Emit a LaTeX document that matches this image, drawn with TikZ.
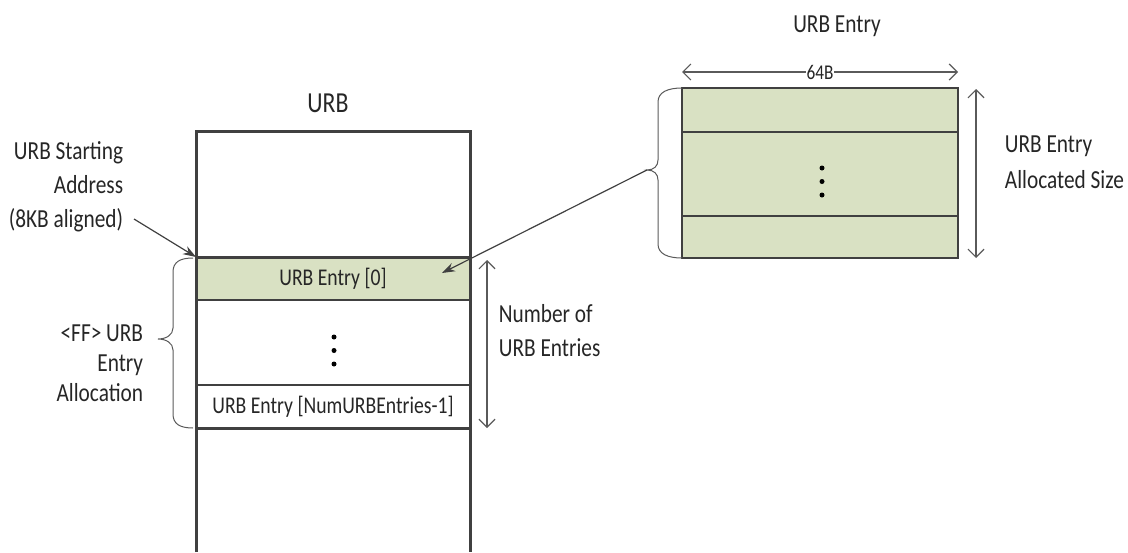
\documentclass[tikz,border=0pt]{standalone}
\usepackage{fontspec}
\usepackage{graphicx}
\setmainfont{Carlito}
\usetikzlibrary{positioning,arrows.meta}
\definecolor{urbgreen}{HTML}{D9E1C3}
\definecolor{urbline}{HTML}{404040}
\definecolor{urbgray}{HTML}{5A5A5A}
\definecolor{urbtext}{HTML}{262626}
\newcommand{\squeeze}[1]{\scalebox{0.82}[1]{#1}}
\begin{document}
\begin{tikzpicture}[x=1pt, y=-1pt, node distance=10pt,
    heavy/.style = {draw=urbline, line width=3pt},
    slot/.style = {draw=urbline, line width=1.2pt, minimum width=274pt, minimum height=43pt, inner sep=0pt, outer sep=0pt, text=urbtext, font=\fontsize{24}{26}\selectfont},
    txt/.style = {text=urbtext, font=\fontsize{26}{34}\selectfont, xscale=0.82, transform shape},
    dim/.style = {draw=urbgray, line width=1.2pt, {Straight Barb[length=8pt,width=16pt]}-{Straight Barb[length=8pt,width=16pt]}},
    ptr/.style = {draw=urbline, line width=1.2pt, -{Stealth[length=13pt,width=9pt]}},
    curly/.style = {draw=urbgray, line width=1pt},
    dot/.style = {circle, fill=black, inner sep=0pt, minimum size=5pt}]
  \useasboundingbox (0,0) rectangle (1128,552);

  % URB
  \coordinate (urbtl) at (196,131);
  \coordinate (urbtr) at (470,131);
  \node[slot, fill=urbgreen] (e0) at (333,278.5) {\squeeze{URB Entry [0]}};
  \node[slot] (elast) at (333,406.5) {\squeeze{URB Entry [NumURBEntries-1]}};
  \foreach \y in {337,350.5,364}
    \node[dot] (ld\y) at (334,\y) {};
  \draw[heavy] (196,552) -- (urbtl) -- (urbtr) -- (470,552);
  \draw[heavy] (e0.north west) -- (e0.north east);
  \draw[heavy] (elast.south west) -- (elast.south east);
  \node[txt, font=\fontsize{29}{32}\selectfont] (urbtitle) at (328,103) {URB};

  % left labels
  \node[txt, align=right, anchor=east] (startlbl) at (126,187) {URB Starting\\Address\\(8KB aligned)};
  \coordinate (starttail) at (134,219);
  \draw[ptr] (starttail) -- (e0.north west);
  \draw[curly] (193,258) .. controls (180,258) and (173,262) .. (173,272) -- (173,328)
    .. controls (173,335) and (166,339) .. (158,339) .. controls (166,339) and (173,343) .. (173,350)
    -- (173,414) .. controls (173,424) and (180,428) .. (193,428);
  \node[txt, align=right, anchor=east, font=\fontsize{26}{30}\selectfont] (alloclbl) at (146,363) {<FF> URB\\Entry\\Allocation};

  % number of entries
  \coordinate (ntop) at (487,260);
  \coordinate (nbot) at (487,428);
  \draw[dim] (ntop) -- (nbot);
  \node[txt, align=left, anchor=west] (numlbl) at (496,331) {Number of\\URB Entries};

  % URB entry layout
  \node[slot, minimum width=276pt, minimum height=44pt, fill=urbgreen] (rtop) at (820,110) {};
  \node[slot, minimum width=276pt, minimum height=84pt, fill=urbgreen, below=0pt of rtop] (rmid) {};
  \node[slot, minimum width=276pt, minimum height=42pt, fill=urbgreen, below=0pt of rmid] (rbot) {};
  \foreach \y in {168,181.5,195}
    \node[dot] (rd\y) at (822,\y) {};
  \node[txt] (entrytitle) at (837,26) {URB Entry};
  \coordinate (wl) at (682,72);
  \coordinate (wr) at (958,72);
  \draw[dim] (wl) -- node[fill=white, inner sep=1pt, text=urbtext, font=\fontsize{21}{22}\selectfont] (sizelbl) {\squeeze{64B}} (wr);
  \coordinate (htop) at (976,89);
  \coordinate (hbot) at (976,258);
  \draw[dim] (htop) -- (hbot);
  \node[txt, align=left, anchor=west, font=\fontsize{26}{36}\selectfont] (alloclbl2) at (1002,162) {URB Entry\\Allocated Size};

  % entry pointer
  \draw[curly] (682,88) .. controls (668,88) and (658,92) .. (658,102) -- (658,160)
    .. controls (658,166) and (654,170) .. (647,170) .. controls (654,170) and (658,174) .. (658,180)
    -- (658,244) .. controls (658,254) and (668,258) .. (682,258);
  \coordinate (entrytip) at (647,170);
  \coordinate (e0hit) at (442,273);
  \draw[ptr] (entrytip) -- (e0hit);
\end{tikzpicture}
\end{document}
